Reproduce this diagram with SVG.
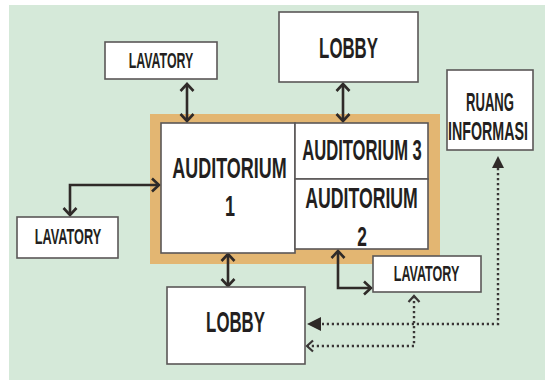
<svg xmlns="http://www.w3.org/2000/svg" width="545" height="380" viewBox="0 0 545 380">
<style>
.box{fill:#ffffff;stroke:#5a5757;stroke-width:1.6}
.t{font-family:'Liberation Sans',Arial,sans-serif;font-weight:bold;fill:#231f20;text-anchor:middle}
.c{fill:none;stroke:#2f2a28;stroke-width:2.6}
.d{fill:none;stroke:#3a3636;stroke-width:2.4;stroke-dasharray:2.2 2.8}
</style>
<defs>
<marker id="open" viewBox="-9 -8 11 16" refX="0" refY="0" markerWidth="11" markerHeight="16" markerUnits="userSpaceOnUse" orient="auto-start-reverse">
<path d="M-7,-6.5 L0,0 L-7,6.5" fill="none" stroke="#2f2a28" stroke-width="2.6"/>
</marker>
<marker id="openS" viewBox="-8 -7 10 14" refX="0" refY="0" markerWidth="10" markerHeight="14" markerUnits="userSpaceOnUse" orient="auto-start-reverse">
<path d="M-6,-5.5 L0,0 L-6,5.5" fill="none" stroke="#3a3636" stroke-width="2.2"/>
</marker>
</defs>
<rect x="9" y="5" width="536" height="375" fill="#d5e9d9"/>
<rect x="150" y="114" width="290" height="150" fill="#e3b672"/>

<g id="connectors">
<path class="c" d="M187,84 V121" marker-start="url(#open)" marker-end="url(#open)"/>
<path class="c" d="M343,84 V121" marker-start="url(#open)" marker-end="url(#open)"/>
<path class="c" d="M70,215 V185 H159" marker-start="url(#open)" marker-end="url(#open)"/>
<path class="c" d="M228,254 V286" marker-start="url(#open)" marker-end="url(#open)"/>
<path class="c" d="M338,251 V288 H371" marker-start="url(#open)" marker-end="url(#open)"/>
<path class="d" d="M498,168 V324 H322"/>
<path d="M498,156 L492,168 L504,168 Z" fill="#2f2a28"/>
<path d="M307,324 L321,317 L321,331 Z" fill="#2f2a28"/>
<path class="d" d="M414,296 V346 H307" marker-start="url(#openS)" marker-end="url(#openS)"/>
</g>

<g id="aud1"><rect class="box" x="161" y="123" width="134" height="130"/>
<text class="t" font-size="29" transform="translate(229.5,178) scale(0.62,1)">AUDITORIUM</text>
<text class="t" font-size="29" transform="translate(230,216) scale(0.62,1)">1</text></g>
<g id="aud3"><rect class="box" x="295" y="123" width="133" height="56"/>
<text class="t" font-size="29" transform="translate(362,160) scale(0.573,1)">AUDITORIUM 3</text></g>
<g id="aud2"><rect class="box" x="295" y="179" width="133" height="70"/>
<text class="t" font-size="29" transform="translate(361.5,208) scale(0.61,1)">AUDITORIUM</text>
<text class="t" font-size="28" transform="translate(362,246) scale(0.62,1)">2</text></g>

<g id="lav-top"><rect class="box" x="105" y="42" width="112" height="37"/>
<text class="t" font-size="22.5" transform="translate(161,68) scale(0.55,1)">LAVATORY</text></g>
<g id="lobby-top"><rect class="box" x="279" y="12" width="139" height="70"/>
<text class="t" font-size="30" transform="translate(348.5,58) scale(0.56,1)">LOBBY</text></g>
<g id="ruang"><rect class="box" x="447" y="70" width="86" height="80"/>
<text class="t" font-size="25" transform="translate(490,111) scale(0.524,1)">RUANG</text>
<text class="t" font-size="25" transform="translate(488,140) scale(0.57,1)">INFORMASI</text></g>
<g id="lav-left"><rect class="box" x="17" y="217" width="101" height="41"/>
<text class="t" font-size="22.5" transform="translate(68,244) scale(0.566,1)">LAVATORY</text></g>
<g id="lobby-bottom"><rect class="box" x="167" y="287" width="138" height="77"/>
<text class="t" font-size="30" transform="translate(235.5,332) scale(0.56,1)">LOBBY</text></g>
<g id="lav-right"><rect class="box" x="373" y="256" width="108" height="36"/>
<text class="t" font-size="22.5" transform="translate(426.5,281) scale(0.558,1)">LAVATORY</text></g>
</svg>
